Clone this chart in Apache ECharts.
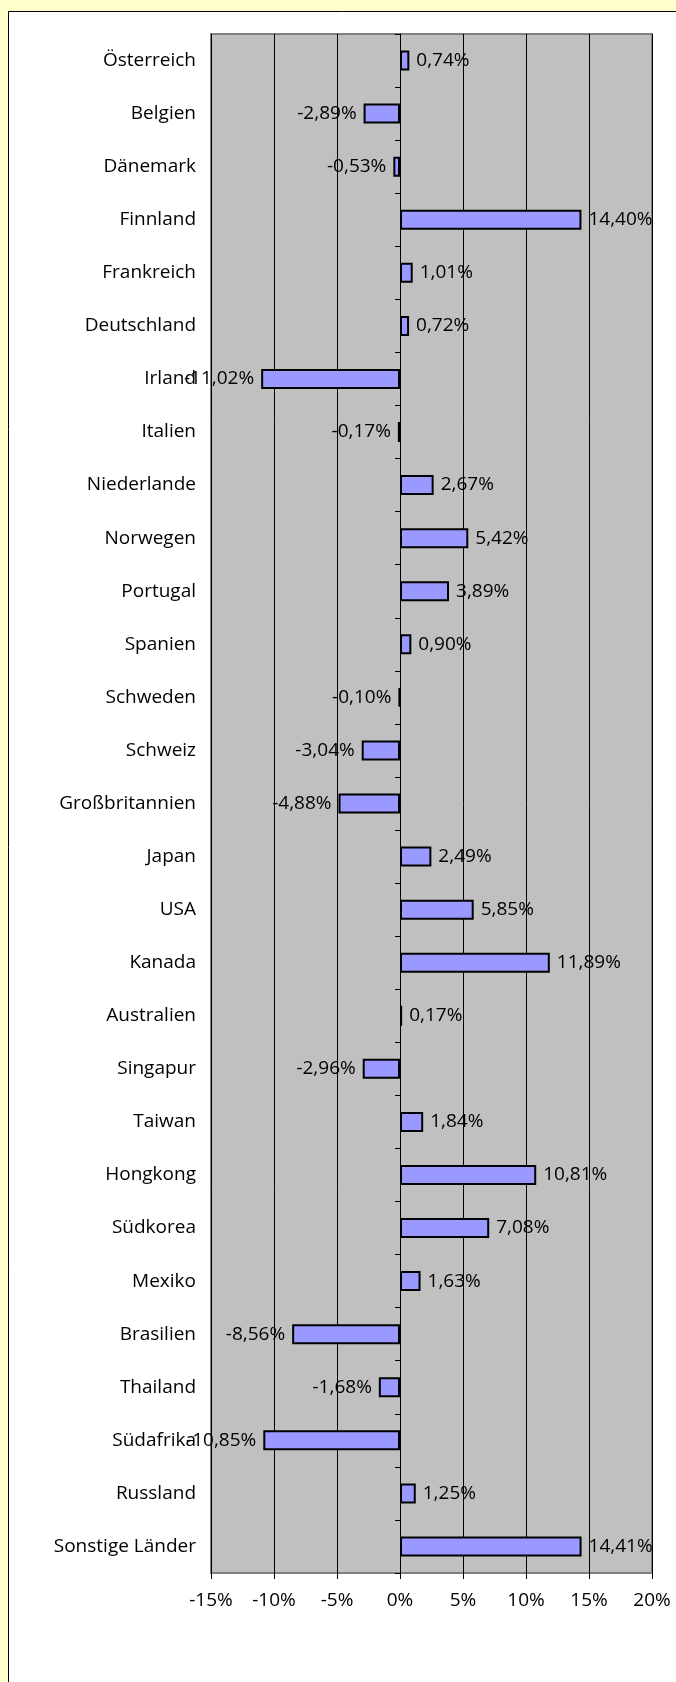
<!DOCTYPE html>
<html>
<head>
<meta charset="utf-8">
<script src="https://cdn.jsdelivr.net/npm/echarts@6/dist/echarts.min.js"></script>
<style>
html,body{margin:0;padding:0;background:#FFFFCC;}
#chart{width:676px;height:1682px;}
</style>
</head>
<body>
<div id="chart"></div>
<script>
var categories = ['Österreich','Belgien','Dänemark','Finnland','Frankreich','Deutschland','Irland','Italien','Niederlande','Norwegen','Portugal','Spanien','Schweden','Schweiz','Großbritannien','Japan','USA','Kanada','Australien','Singapur','Taiwan','Hongkong','Südkorea','Mexiko','Brasilien','Thailand','Südafrika','Russland','Sonstige Länder'];
var values = [0.74,-2.89,-0.53,14.40,1.01,0.72,-11.02,-0.17,2.67,5.42,3.89,0.90,-0.10,-3.04,-4.88,2.49,5.85,11.89,0.17,-2.96,1.84,10.81,7.08,1.63,-8.56,-1.68,-10.85,1.25,14.41];
var xMin = -15, xMax = 20, xStep = 5;

var FONT = "'Open Sans', 'Noto Sans', sans-serif";
var chart = echarts.init(document.getElementById('chart'), null, {renderer:'canvas'});
var seriesData = values.map(function(v){
  return {value: v, label: {position: v < 0 ? 'left' : 'right'}};
});
chart.setOption({
  animation: false,
  backgroundColor: '#FFFFCC',
  graphic: [{
    type: 'rect', z: -10, silent: true,
    shape: {x: 8.5, y: 11.5, width: 720, height: 1720},
    style: {fill: '#FFFFFF', stroke: '#000000', lineWidth: 1}
  }],
  grid: {
    left: 211, top: 34, width: 441, height: 1539,
    show: true, backgroundColor: '#C0C0C0', borderColor: '#808080', borderWidth: 2,
    containLabel: false
  },
  xAxis: {
    type: 'value', min: xMin, max: xMax, interval: xStep,
    axisLine: {show: false, onZero: false},
    axisTick: {show: true, length: 6, lineStyle: {color: '#000', width: 1}},
    axisLabel: {formatter: '{value}%', fontFamily: FONT, fontSize: 19, color: '#000', margin: 18},
    splitLine: {show: true, lineStyle: {color: '#000', width: 1}}
  },
  yAxis: [{
    type: 'category', data: categories, inverse: true, position: 'left',
    axisLine: {show: false, onZero: false},
    axisTick: {show: false},
    axisLabel: {fontFamily: FONT, fontSize: 19, color: '#000', margin: 15},
    splitLine: {show: false}
  }, {
    type: 'category', data: categories, inverse: true, position: 'left',
    axisLine: {show: true, onZero: true, lineStyle: {color: '#000', width: 1}},
    axisTick: {show: true, inside: false, length: 5, lineStyle: {color: '#000', width: 1}},
    axisLabel: {show: false},
    splitLine: {show: false}
  }],
  series: [{
    type: 'bar', yAxisIndex: 0, data: seriesData, barWidth: 20,
    itemStyle: {color: '#9999FF', borderColor: '#000', borderWidth: 2},
    label: {
      show: true, distance: 7, fontFamily: FONT, fontSize: 19, color: '#000',
      formatter: function(p){ return p.value.toFixed(2).replace('.', ',') + '%'; }
    },
    z: 3
  }]
});
</script>
</body>
</html>
